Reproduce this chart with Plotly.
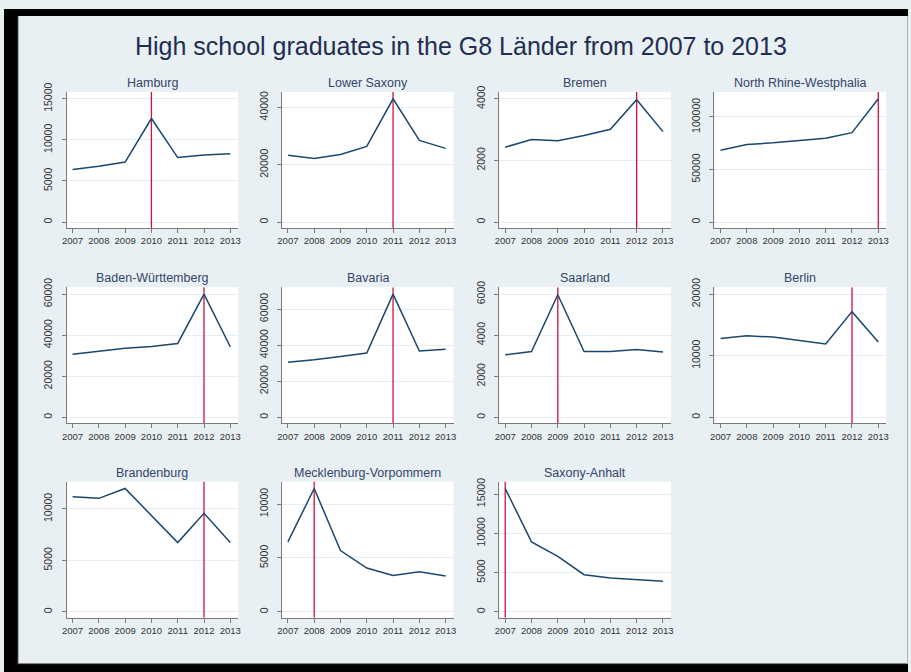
import plotly.graph_objects as go

years = [2007, 2008, 2009, 2010, 2011, 2012, 2013]

states = ["Hamburg", "Lower Saxony", "Bremen", "North Rhine-Westphalia",
          "Baden-Württemberg", "Bavaria", "Saarland", "Berlin",
          "Brandenburg", "Mecklenburg-Vorpommern", "Saxony-Anhalt"]

hamburg = [6400, 6800, 7300, 12600, 7850, 8150, 8300]
lower_saxony = [23300, 22200, 23600, 26400, 43000, 28500, 25700]
bremen = [2430, 2680, 2640, 2810, 3010, 3970, 2935]
nrw = [68400, 73800, 75400, 77600, 79800, 85100, 117300]
baden_wuerttemberg = [30800, 32400, 33700, 34500, 36000, 60000, 34400]
bavaria = [30600, 31900, 33700, 35700, 68300, 36800, 37750]
saarland = [3050, 3210, 5970, 3210, 3210, 3310, 3180]
berlin = [12800, 13240, 13030, 12440, 11900, 17160, 12220]
brandenburg = [11190, 11030, 11990, 9360, 6730, 9580, 6730]
mecklenburg = [6490, 11450, 5690, 4060, 3380, 3720, 3320]
saxony_anhalt = [15720, 8910, 7060, 4730, 4310, 4100, 3890]

series = [hamburg, lower_saxony, bremen, nrw, baden_wuerttemberg, bavaria,
          saarland, berlin, brandenburg, mecklenburg, saxony_anhalt]

# year in which the G8 double cohort graduated
double_cohort_year = [2010, 2011, 2012, 2013, 2012, 2011, 2009, 2012, 2012, 2008, 2007]

y_ticks = [
    [0, 5000, 10000, 15000],
    [0, 20000, 40000],
    [0, 2000, 4000],
    [0, 50000, 100000],
    [0, 20000, 40000, 60000],
    [0, 20000, 40000, 60000],
    [0, 2000, 4000, 6000],
    [0, 10000, 20000],
    [0, 5000, 10000],
    [0, 5000, 10000],
    [0, 5000, 10000, 15000],
]

title_text = "High school graduates in the G8 Länder from 2007 to 2013"

W, H = 911, 672
col_x0 = [63, 280, 499, 716]
row_y0 = [84, 282, 479]
pw, ph = 173, 138

BG = "#e8f0f3"
NAVY = "#1a476f"
RED = "#d21040"
TXT = "#1f2e52"

fig = go.Figure()

FONT = "Liberation Sans, Arial, sans-serif"

for i, name in enumerate(states):
    r, c = divmod(i, 4)
    ax = "" if i == 0 else str(i + 1)
    x0 = col_x0[c]
    y0 = row_y0[r]
    dom_x = [x0 / W, (x0 + pw) / W]
    dom_y = [1 - (y0 + ph) / H, 1 - y0 / H]

    vals = series[i]
    top = max(max(vals), max(y_ticks[i]))
    span = top
    ylo = -span * 6 / 125
    yhi = top + span * 7 / 125

    # red reference line
    fig.add_trace(go.Scatter(
        x=[double_cohort_year[i], double_cohort_year[i]], y=[ylo, yhi],
        mode="lines", line=dict(color=RED, width=1.3),
        xaxis="x" + ax, yaxis="y" + ax, showlegend=False, hoverinfo="skip"))
    fig.add_trace(go.Scatter(
        x=years, y=vals, mode="lines", line=dict(color=NAVY, width=1.5),
        xaxis="x" + ax, yaxis="y" + ax, showlegend=False, name=name))

    axis_common = dict(showline=True, linecolor="#7a7a7a", linewidth=1,
                       ticks="outside", ticklen=4, tickcolor="#7a7a7a",
                       zeroline=False, fixedrange=True)
    fig.layout["xaxis" + ax] = dict(
        domain=dom_x, anchor="y" + ax, range=[2006.77, 2013.3],
        tickvals=years, ticktext=[str(y) for y in years],
        showgrid=False, tickfont=dict(size=9.5, color="#333333", family=FONT),
        **axis_common)
    fig.layout["yaxis" + ax] = dict(
        domain=dom_y, anchor="x" + ax, range=[ylo, yhi],
        tickvals=y_ticks[i], ticktext=[str(v) for v in y_ticks[i]],
        tickangle=-90, showgrid=True, gridcolor="#e6eef1", gridwidth=1,
        ticklabelstandoff=5,
        tickfont=dict(size=10.5, color="#333333", family=FONT),
        **axis_common)

    fig.add_annotation(
        text=name, x=(x0 + pw / 2) / W, y=1 - (y0 - 9) / H,
        xref="paper", yref="paper", showarrow=False,
        xanchor="center", yanchor="middle",
        font=dict(size=12.5, color="#34446a", family=FONT))

fig.add_annotation(
    text=title_text, x=461 / W, y=1 - 37 / H, xref="paper", yref="paper",
    showarrow=False, xanchor="center", yanchor="middle",
    font=dict(size=25, color=TXT, family=FONT))

# black frame around the slide
shapes = [
    dict(type="rect", xref="paper", yref="paper", x0=0, x1=14 / W, y0=0, y1=1,
         fillcolor="black", line=dict(width=0), layer="above"),
    dict(type="rect", xref="paper", yref="paper", x0=0, x1=1, y0=1 - 7 / H, y1=1,
         fillcolor="black", line=dict(width=0), layer="above"),
    dict(type="rect", xref="paper", yref="paper", x0=0, x1=1, y0=0, y1=8 / H,
         fillcolor="black", line=dict(width=0), layer="above"),
    dict(type="line", xref="paper", yref="paper", x0=14.5 / W, x1=14.5 / W,
         y0=8 / H, y1=1 - 7 / H, line=dict(color="#9a9a9a", width=1)),
    dict(type="line", xref="paper", yref="paper", x0=14 / W, x1=1,
         y0=8.5 / H, y1=8.5 / H, line=dict(color="#777777", width=1)),
    dict(type="line", xref="paper", yref="paper", x0=910.5 / W, x1=910.5 / W,
         y0=8 / H, y1=1 - 7 / H, line=dict(color="#b0b0b0", width=1)),
]

fig.update_layout(
    width=W, height=H, margin=dict(l=0, r=0, t=0, b=0),
    paper_bgcolor=BG, plot_bgcolor="white",
    shapes=shapes, showlegend=False,
    font=dict(family=FONT),
)

fig.write_html(
    "out.html",
    config={"displayModeBar": False},
    post_script="document.body.style.margin='0';document.body.style.padding='0';"
                "document.body.style.overflow='hidden';",
)
